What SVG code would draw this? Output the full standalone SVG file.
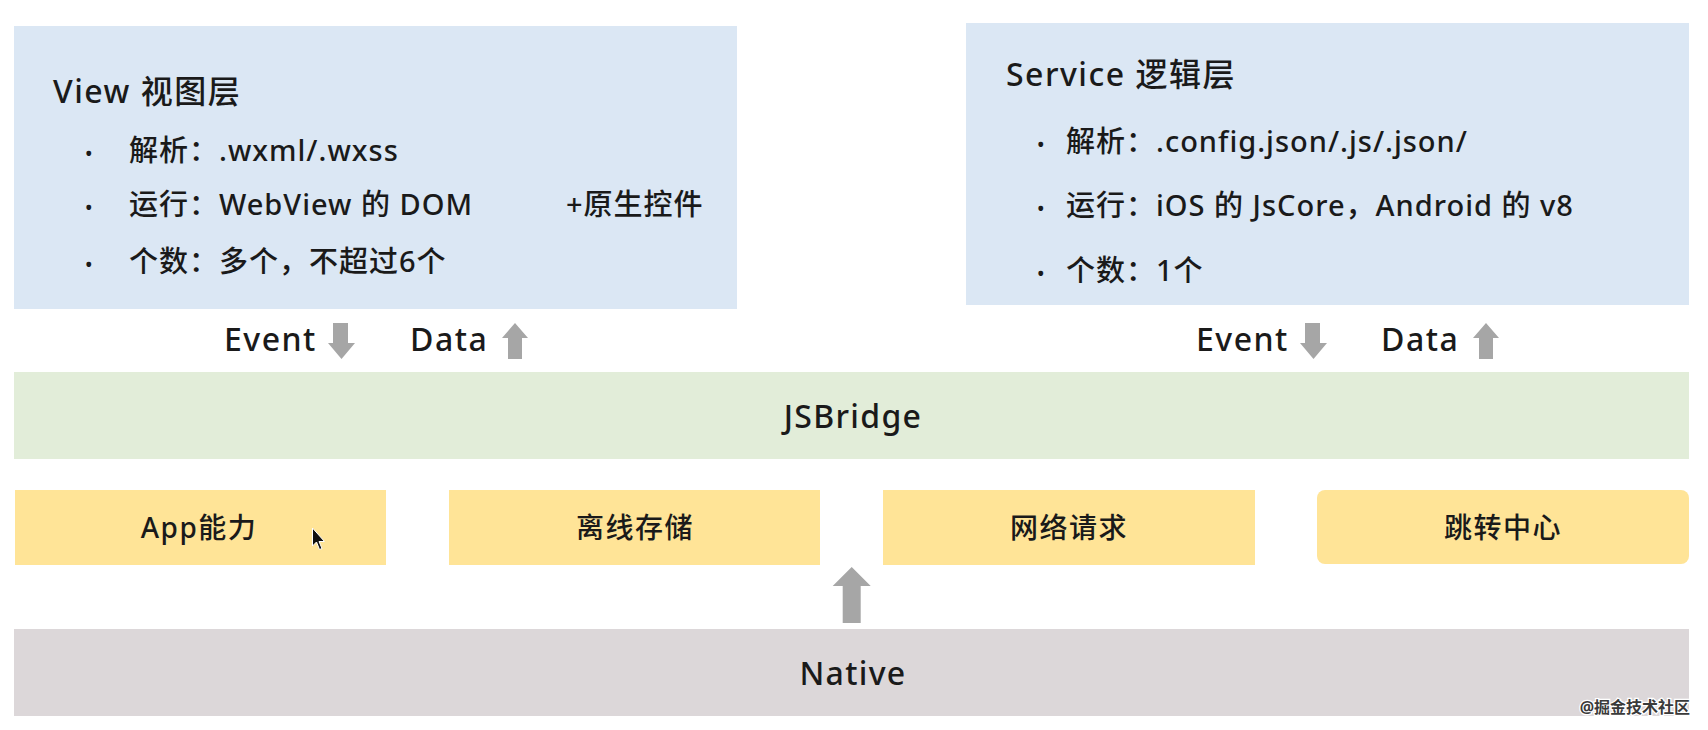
<svg xmlns="http://www.w3.org/2000/svg" width="1708" height="730" viewBox="0 0 1708 730">
<style>
text{font-family:"Noto Sans","Noto Sans CJK SC",sans-serif;fill:#1a1a1a;font-weight:500;}
.title{font-size:32px;letter-spacing:1.5px;}
.row{font-size:29px;letter-spacing:1px;}
.dot{font-size:20px;}
.lbl{font-size:32px;letter-spacing:1.5px;}
.band{font-size:32px;letter-spacing:1.3px;text-anchor:middle;}
.cap{font-size:28px;letter-spacing:1.5px;text-anchor:middle;}
.blue{fill:#DBE7F4;}
.green{fill:#E2EDD9;}
.yellow{fill:#FFE497;}
.gray{fill:#DCD7D9;}
.arr{fill:#A6A6A6;}
.wm{font-size:16px;fill:#3a3a3a;stroke:#ffffff;stroke-width:2.5px;paint-order:stroke;text-anchor:end;font-weight:700;}
</style>
<rect width="1708" height="730" fill="#ffffff"/>
<g id="view">
<rect class="blue" x="14" y="26" width="723" height="283"/>
<text class="title" x="53" y="103">View 视图层</text>
<text class="dot" x="85" y="161">•</text>
<text class="row" x="129" y="161">解析：.wxml/.wxss</text>
<text class="dot" x="85" y="215">•</text>
<text class="row" x="129" y="215">运行：WebView 的 DOM</text>
<text class="row" x="566" y="215">+原生控件</text>
<text class="dot" x="85" y="272">•</text>
<text class="row" x="129" y="272">个数：多个，不超过6个</text>
</g>
<g id="service">
<rect class="blue" x="966" y="23" width="723" height="282"/>
<text class="title" x="1006" y="86">Service 逻辑层</text>
<text class="dot" x="1037" y="152">•</text>
<text class="row" x="1066" y="152">解析：.config.json/.js/.json/</text>
<text class="dot" x="1037" y="216">•</text>
<text class="row" x="1066" y="216">运行：iOS 的 JsCore，Android 的 v8</text>
<text class="dot" x="1037" y="281">•</text>
<text class="row" x="1066" y="281">个数：1个</text>
</g>
<g id="labels">
<text class="lbl" x="224" y="351">Event</text>
<text class="lbl" x="410" y="351">Data</text>
<text class="lbl" x="1196" y="351">Event</text>
<text class="lbl" x="1381" y="351">Data</text>
</g>
<g id="jsbridge">
<rect class="green" x="14" y="372" width="1675" height="87"/>
<text class="band" x="853" y="428">JSBridge</text>
</g>
<g id="app">
<rect class="yellow" x="15" y="490" width="371" height="75"/>
<text class="cap" x="199" y="538">App能力</text>
</g>
<g id="storage">
<rect class="yellow" x="449" y="490" width="371" height="75"/>
<text class="cap" x="635" y="538">离线存储</text>
</g>
<g id="network">
<rect class="yellow" x="883" y="490" width="372" height="75"/>
<text class="cap" x="1069" y="538">网络请求</text>
</g>
<g id="jump">
<rect class="yellow" x="1317" y="490" width="372" height="74" rx="8"/>
<text class="cap" x="1503" y="538">跳转中心</text>
</g>
<g id="native">
<rect class="gray" x="14" y="629" width="1675" height="87"/>
<text class="band" x="853" y="685">Native</text>
</g>
<g id="connectors">
<path class="arr" d="M333,323 H348 V343 H355 L341.5,359 L328,343 H333 Z"/>
<path class="arr" d="M515,323 L528,338 H522 V359 H508 V338 H502 Z"/>
<path class="arr" d="M1305,323 H1320 V343 H1327 L1313.5,359 L1300,343 H1305 Z"/>
<path class="arr" d="M1486,323 L1499,338 H1493 V359 H1479 V338 H1473 Z"/>
<path class="arr" d="M851.7,567 L870.7,586 H860.7 V623 H842.7 V586 H832.7 Z"/>
</g>
<path d="M312.5,528 L312.5,546 L316.5,542 L319.5,549.5 L322,548.5 L319,541.5 L324.5,541.5 Z" fill="#111111" stroke="#ffffff" stroke-width="1"/>
<text class="wm" x="1690" y="713">@掘金技术社区</text>
</svg>
